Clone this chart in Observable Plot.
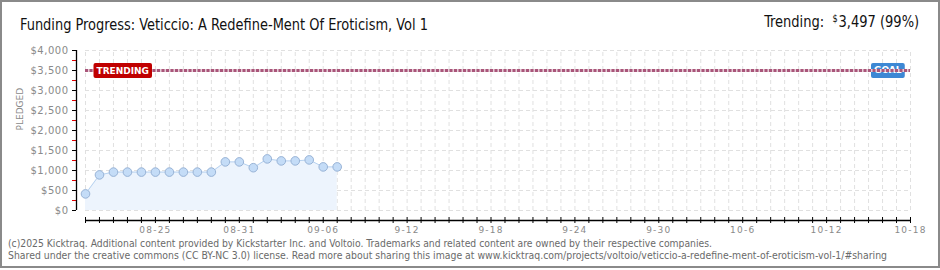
<!DOCTYPE html>
<html><head><meta charset="utf-8">
<script src="https://cdn.jsdelivr.net/npm/d3@7"></script>
<script src="https://cdn.jsdelivr.net/npm/@observablehq/plot@0.6"></script>
<style>
html,body{margin:0;padding:0;background:#fff;}
#wrap{position:relative;width:940px;height:270px;overflow:hidden;background:#fff;}
#border{position:absolute;left:0;top:0;width:940px;height:268px;box-sizing:border-box;border:2px solid #8a8a8a;pointer-events:none;}
#chart{position:absolute;left:0;top:0;}
.hdr{position:absolute;white-space:nowrap;font-family:"Liberation Sans Narrow","DejaVu Sans Condensed","Liberation Sans",sans-serif;font-size:16px;line-height:16px;color:#111;}
#title{left:20px;top:17px;transform-origin:left center;}
#trend{right:21px;top:14px;transform-origin:right center;}
#trend .cur{font-size:10px;position:relative;top:-5px;margin-right:1px;}
.foot{position:absolute;left:8px;white-space:nowrap;font-family:"DejaVu Sans",sans-serif;font-size:10px;line-height:12px;color:#6a6a6a;transform-origin:left center;}
#f1{top:238px;}
#f2{top:250px;}
g[aria-label="y-axis tick label"] text{letter-spacing:0.5px;}
g[aria-label="x-axis tick label"] text{letter-spacing:1.2px;}
</style>
</head><body>
<div id="wrap">
  <div id="chart"></div>
  <div id="title" class="hdr">Funding Progress: Veticcio: A Redefine-Ment Of Eroticism, Vol 1</div>
  <div id="trend" class="hdr">Trending:&nbsp; <span class="cur">$</span>3,497 (99%)</div>
  <div id="f1" class="foot">(c)2025 Kicktraq. Additional content provided by Kickstarter Inc. and Voltoio. Trademarks and related content are owned by their respective companies.</div>
  <div id="f2" class="foot">Shared under the creative commons (CC BY-NC 3.0) license. Read more about sharing this image at www.kicktraq.com/projects/voltoio/veticcio-a-redefine-ment-of-eroticism-vol-1/#sharing</div>
  <div id="border"></div>
</div>
<script>
// ---- data ----
const dates = ["2025-08-20","2025-08-21","2025-08-22","2025-08-23","2025-08-24","2025-08-25","2025-08-26","2025-08-27","2025-08-28","2025-08-29","2025-08-30","2025-08-31","2025-09-01","2025-09-02","2025-09-03","2025-09-04","2025-09-05","2025-09-06","2025-09-07"];
const pledged = [415, 890, 960, 960, 960, 960, 960, 960, 960, 960, 1215, 1215, 1070, 1290, 1240, 1240, 1265, 1090, 1090];
const goalValue = 3500;
const trendingValue = 3497;
const xStart = "2025-08-20";
const xEnd = "2025-10-18";
const xTickDates = ["2025-08-25","2025-08-31","2025-09-06","2025-09-12","2025-09-18","2025-09-24","2025-09-30","2025-10-06","2025-10-12","2025-10-18"];
const xTickLabels = ["08-25","08-31","09-06","9-12","9-18","9-24","9-30","10-6","10-12","10-18"];
const yTicks = [0,500,1000,1500,2000,2500,3000,3500,4000];
const yTickLabels = ["$0","$500","$1,000","$1,500","$2,000","$2,500","$3,000","$3,500","$4,000"];
const yMinorTicks = [250,750,1250,1750,2250,2750,3250,3750];

// ---- build ----
const parse = d3.utcParse("%Y-%m-%d");
const data = dates.map((d, i) => ({date: parse(d), value: pledged[i]}));
const start = parse(xStart), end = parse(xEnd);
const days = d3.utcDay.range(start, d3.utcDay.offset(end, 1));
const xTicks = xTickDates.map(parse);
const xLabel = d => xTickLabels[xTicks.findIndex(t => +t === +d)];
const yLabel = d => yTickLabels[yTicks.indexOf(d)];
const grid = "#e0e0e0";

const chart = Plot.plot({
  width: 940, height: 270,
  marginLeft: 76, marginRight: 30, marginTop: 50, marginBottom: 50,
  insetLeft: 9, insetBottom: 10,
  x: {type: "utc", domain: [start, end]},
  y: {domain: [0, 4000]},
  style: {background: "transparent", fontFamily: "DejaVu Sans, sans-serif", overflow: "visible"},
  marks: [
    Plot.ruleY(yTicks, {x1: () => start, x2: () => end, stroke: grid, strokeDasharray: "4,3"}),
    Plot.ruleX(days, {x: d => d, y1: () => 0, y2: () => 4000, stroke: grid, strokeDasharray: "4,3"}),
    Plot.areaY(data, {x: "date", y: "value", fill: "#edf4fd"}),
    Plot.lineY(data, {x: "date", y: "value", stroke: "#b7d2f0", strokeWidth: 1}),
    Plot.dot(data, {x: "date", y: "value", r: 4.3, fill: "#c4dcf7", stroke: "#98b3d6", strokeWidth: 1}),
    Plot.text([{x: end, y: goalValue, t: "GOAL"}], {x: "x", y: "y", text: "t", textAnchor: "end", dx: -9, fill: "white", fontSize: 9, fontWeight: "bold"}),
    Plot.ruleY([goalValue], {x1: () => start, x2: () => end, stroke: "#e6cfd8", strokeWidth: 3}),
    Plot.ruleY([trendingValue], {x1: () => start, x2: () => end, stroke: "#a9567a", strokeWidth: 3, strokeDasharray: "3,1.5"}),
    Plot.text([{x: start, y: trendingValue, t: "TRENDING"}], {x: "x", y: "y", text: "t", textAnchor: "start", dx: 11, fill: "white", fontSize: 9, fontWeight: "bold"}),
    Plot.axisY(yMinorTicks, {anchor: "left", tickSize: 4, stroke: "#e00000", tickFormat: () => "", label: null}),
    Plot.axisY(yTicks, {anchor: "left", tickSize: 4, tickPadding: 4, stroke: "black", fill: "#8a8a8a", fontSize: 10, tickFormat: yLabel, label: null}),
    Plot.ruleX([start], {x: d => d, y1: () => 0, y2: () => 4000, dx: -9, stroke: "black", strokeWidth: 1.3}),
    Plot.ruleY([0], {x1: () => start, x2: () => end, dy: 10, stroke: "black", strokeWidth: 1.3}),
    Plot.axisX(days, {anchor: "bottom", tickSize: 6, dy: -3, stroke: "black", tickFormat: () => "", label: null}),
    Plot.axisX(xTicks, {anchor: "bottom", tickSize: 0, tickPadding: 6, fill: "#8a8a8a", fontSize: 9, tickFormat: xLabel, label: null}),
    Plot.text(["PLEDGED"], {frameAnchor: "left", rotate: -90, dx: -56, dy: -5, fontSize: 9, fill: "#8a8a8a"})
  ]
});
document.getElementById("chart").appendChild(chart);

// label boxes behind text
function boxes(label, color, padX, padY) {
  d3.select(chart).selectAll("text").filter(function() { return this.textContent === label; }).each(function() {
    const b = this.getBBox();
    const t = this.getAttribute("transform");
    const r = document.createElementNS("http://www.w3.org/2000/svg", "rect");
    r.setAttribute("x", b.x - padX); r.setAttribute("y", b.y - padY);
    r.setAttribute("width", b.width + 2 * padX); r.setAttribute("height", b.height + 2 * padY);
    r.setAttribute("rx", 2); r.setAttribute("fill", color); r.setAttribute("stroke", "none");
    if (t) r.setAttribute("transform", t);
    this.parentNode.insertBefore(r, this);
  });
}
boxes("TRENDING", "#c00000", 3, 2.5);
boxes("GOAL", "#3d88d4", 3, 2.5);

// fit header/footer text widths
function fit(id, w) {
  const el = document.getElementById(id);
  const cur = el.getBoundingClientRect().width;
  el.style.transform = `scaleX(${w / cur})`;
}
fit("title", 408);
fit("trend", 155);
fit("f1", 704);
fit("f2", 879);
</script>
</body></html>
